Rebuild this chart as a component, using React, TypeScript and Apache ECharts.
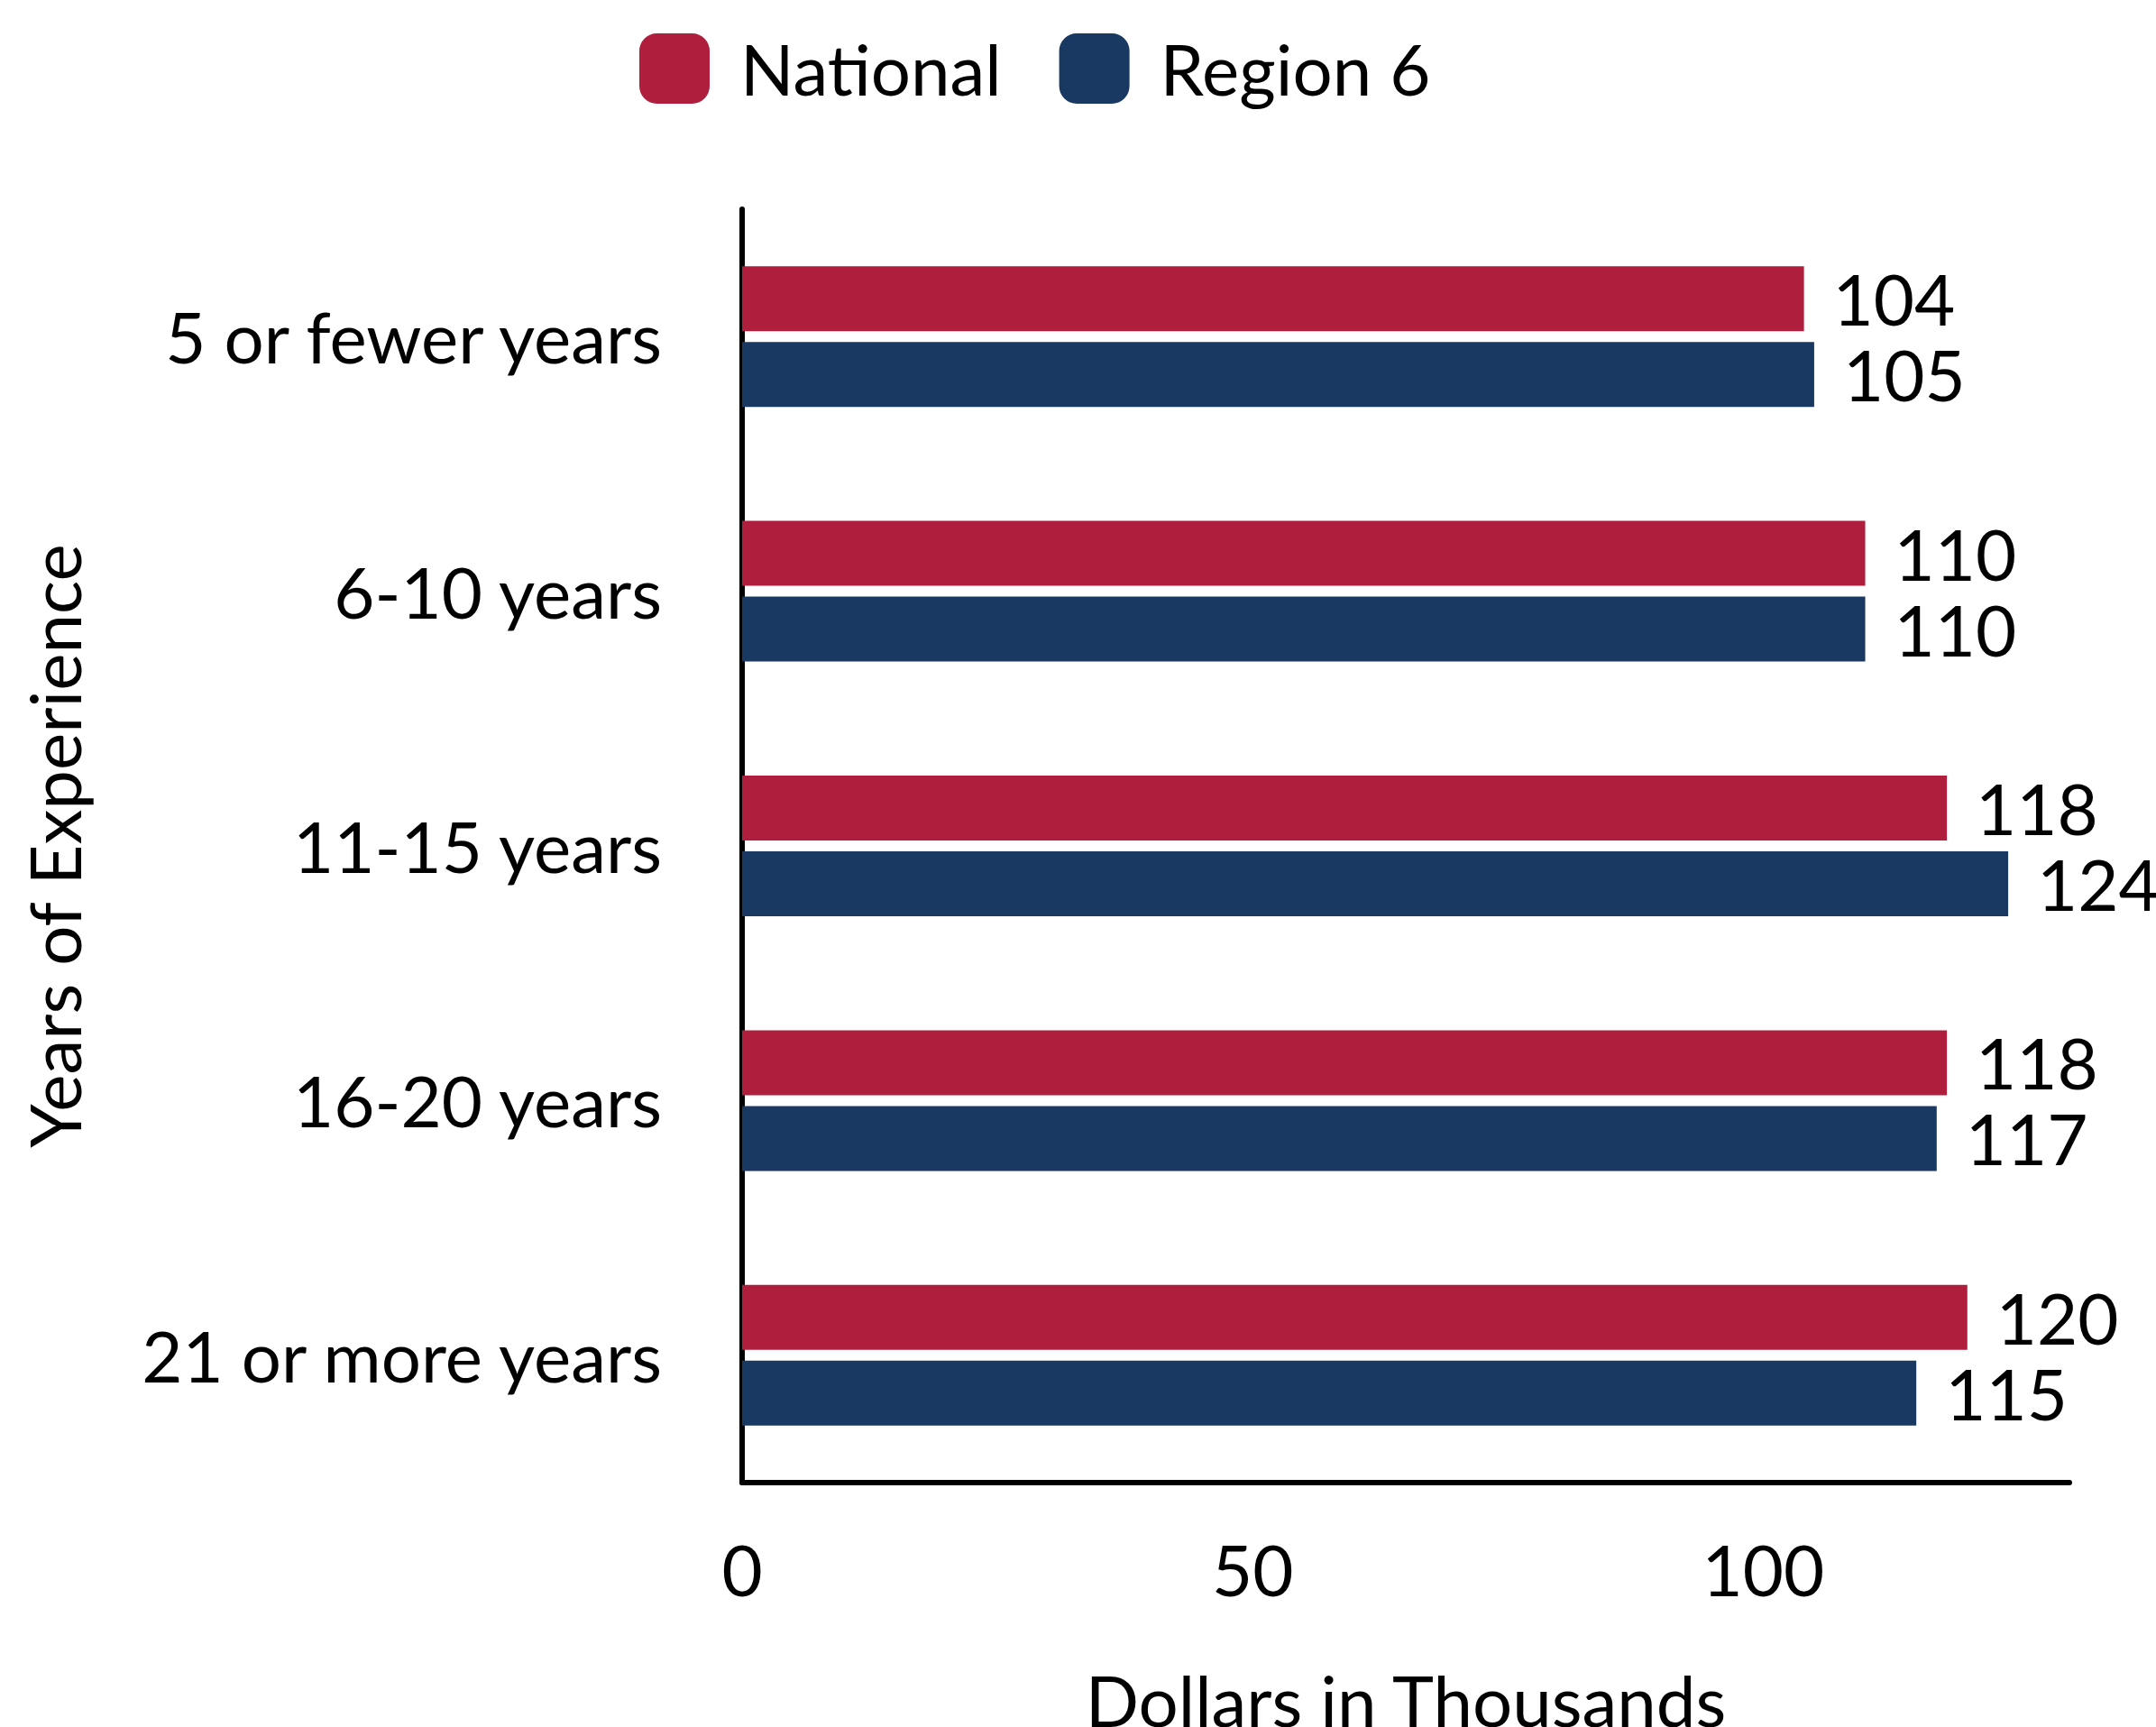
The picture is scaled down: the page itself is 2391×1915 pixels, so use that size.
import React, { useEffect, useRef } from "react";
import * as echarts from "echarts";

const categories = ["5 or fewer years", "6-10 years", "11-15 years", "16-20 years", "21 or more years"];
const nationalValues = [104, 110, 118, 118, 120];
const regionValues = [105, 110, 124, 117, 115];
const seriesNames = ["National", "Region 6"];
const xAxisTitle = "Dollars in Thousands";
const yAxisTitle = "Years of Experience";

const RED = "#AF1F3D";
const BLUE = "#1A3962";
const FONT = "Lato";

export default function App() {
  const ref = useRef<HTMLDivElement>(null);
  useEffect(() => {
    if (!ref.current) return;
    const chart = echarts.init(ref.current, undefined, { renderer: "svg" });
    const labelStyle = {
      show: true,
      position: "right",
      distance: 32,
      color: "#000",
      fontFamily: FONT,
      fontSize: 78,
    };
    chart.setOption({
      animation: false,
      backgroundColor: "#fff",
      textStyle: { fontFamily: FONT },
      legend: {
        left: 704,
        top: 32,
        itemWidth: 78,
        itemHeight: 78,
        itemGap: 64,
        icon: "roundRect",
        textStyle: { fontFamily: FONT, fontSize: 78, color: "#000", padding: [0, 0, 0, 29] },
        data: seriesNames,
      },
      grid: {
        left: 823,
        right: 96,
        top: 232,
        bottom: 271,
        containLabel: false,
        outerBoundsMode: "none",
      },
      xAxis: {
        type: "value",
        min: 0,
        max: 130,
        interval: 50,
        name: xAxisTitle,
        nameLocation: "middle",
        nameGap: 202,
        nameTextStyle: { fontFamily: FONT, fontSize: 78, color: "#000" },
        axisLine: { show: true, lineStyle: { color: "#000", width: 6 } },
        axisTick: { show: false },
        splitLine: { show: false },
        axisLabel: { showMaxLabel: false, margin: 57, fontFamily: FONT, fontSize: 78, color: "#000" },
      },
      yAxis: {
        type: "category",
        inverse: true,
        data: categories,
        name: yAxisTitle,
        nameLocation: "middle",
        nameGap: 724,
        nameTextStyle: { fontFamily: FONT, fontSize: 78, color: "#000" },
        axisLine: { show: true, lineStyle: { color: "#000", width: 6 } },
        axisTick: { show: false },
        splitLine: { show: false },
        axisLabel: { margin: 89, fontFamily: FONT, fontSize: 78, color: "#000" },
      },
      series: [
        {
          name: seriesNames[0],
          type: "bar",
          data: nationalValues,
          barWidth: 72,
          barGap: "16.7%",
          itemStyle: { color: RED },
          label: labelStyle,
        },
        {
          name: seriesNames[1],
          type: "bar",
          data: regionValues,
          barWidth: 72,
          barGap: "16.7%",
          itemStyle: { color: BLUE },
          label: labelStyle,
        },
      ],
    });
    return () => chart.dispose();
  }, []);
  return (
    <div
      ref={ref}
      style={{ position: "absolute", left: 0, top: 0, width: 2391, height: 1915 }}
    />
  );
}
